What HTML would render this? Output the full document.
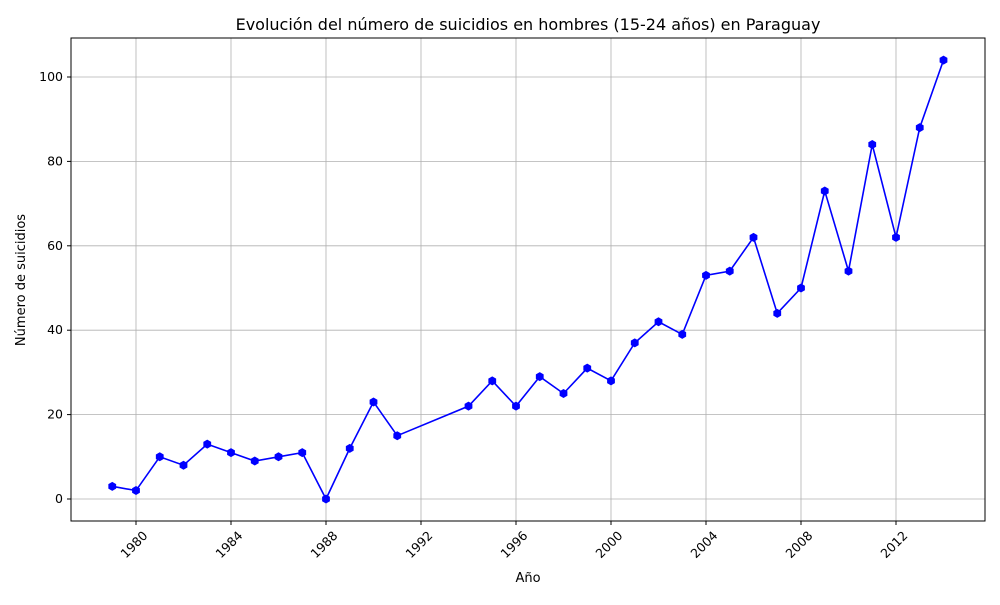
<!DOCTYPE html>
<html><head><meta charset="utf-8"><style>
body{margin:0;background:#fff;font-family:"Liberation Sans","DejaVu Sans",sans-serif;}
svg text{font-family:"DejaVu Sans","Liberation Sans",sans-serif;}
</style></head><body>
<svg id="chart" width="1000" height="600" xmlns="http://www.w3.org/2000/svg">
<rect width="1000" height="600" fill="#fff"/>
<text x="528" y="30" font-size="16" text-anchor="middle" fill="#000">Evolución del número de suicidios en hombres (15-24 años) en Paraguay</text>
<g id="grid"></g><g id="axes"></g><g id="series"></g>
<rect x="71" y="38" width="914" height="483" fill="none" stroke="#000" stroke-width="1"/>
<text x="528" y="582" font-size="13" text-anchor="middle">Año</text>
<text transform="translate(25,280) rotate(-90)" font-size="13" text-anchor="middle">Número de suicidios</text>
</svg>
<script>
const years=[1979,1980,1981,1982,1983,1984,1985,1986,1987,1988,1989,1990,1991,1994,1995,1996,1997,1998,1999,2000,2001,2002,2003,2004,2005,2006,2007,2008,2009,2010,2011,2012,2013,2014];
const suicides=[3,2,10,8,13,11,9,10,11,0,12,23,15,22,28,22,29,25,31,28,37,42,39,53,54,62,44,50,73,54,84,62,88,104];
const xTicks=[1980,1984,1988,1992,1996,2000,2004,2008,2012];
const yTicks=[0,20,40,60,80,100];
const NS="http://www.w3.org/2000/svg";
const x=v=>136+(v-1980)*23.75;
const y=v=>499-v*4.22;
function mk(t,a,p){const e=document.createElementNS(NS,t);for(const k in a)e.setAttribute(k,a[k]);p.appendChild(e);return e;}
const grid=document.getElementById('grid'),axes=document.getElementById('axes'),series=document.getElementById('series');
xTicks.forEach(t=>{
 const g=mk('line',{x1:x(t),x2:x(t),y1:38,y2:521,stroke:'#b0b0b0','stroke-width':0.8},grid);
 
 
 mk('line',{x1:x(t),x2:x(t),y1:521,y2:525,stroke:'#000'},axes);
 const ax=x(t)+6, ay=530;
 const tx=mk('text',{x:ax,y:ay+9,'font-size':12.5,'text-anchor':'end',transform:`rotate(-45 ${ax} ${ay})`},axes);
 tx.textContent=t;
 
 
});
yTicks.forEach(t=>{
 const g=mk('line',{x1:71,x2:985,y1:y(t),y2:y(t),stroke:'#b0b0b0','stroke-width':0.8},grid);
 
 
 mk('line',{x1:67,x2:71,y1:y(t),y2:y(t),stroke:'#000'},axes);
 const tx=mk('text',{x:63,y:y(t)+4,'font-size':12.5,'text-anchor':'end'},axes);
 tx.textContent=t;
 
 
});
const pl=mk('polyline',{points:years.map((yr,i)=>x(yr)+','+y(suicides[i])).join(' '),fill:'none',stroke:'#0000ff','stroke-width':1.6},series);


years.forEach((yr,i)=>{
 const cx=x(yr),cy=y(suicides[i]),r=4.5;
 const pts=[];for(let k=0;k<6;k++){const a=Math.PI/2+k*Math.PI/3;pts.push((cx+r*Math.cos(a))+','+(cy+r*Math.sin(a)));}
 const m=mk('polygon',{points:pts.join(' '),fill:'#0000ff'},series);
 
 
});
</script>
</body></html>
